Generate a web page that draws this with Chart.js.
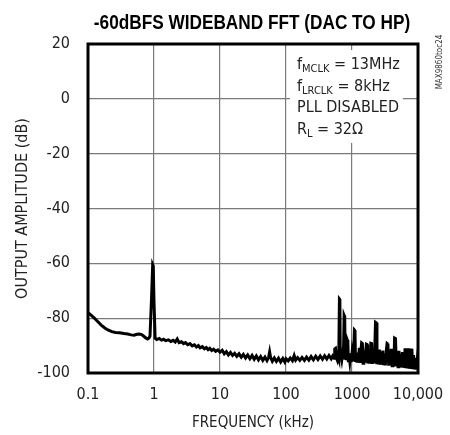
<!DOCTYPE html>
<html>
<head>
<meta charset="utf-8">
<script src="https://cdn.jsdelivr.net/npm/chart.js@4.4.0/dist/chart.umd.min.js"></script>
<style>
  html, body { margin: 0; padding: 0; background: #fff; }
</style>
</head>
<body>
<canvas id="myChart" width="450" height="435"></canvas>
<script>
// FFT trace, frequency in kHz and output amplitude in dB
const freqKHz = [
    0.1, 0.11, 0.125, 0.14, 0.16, 0.18, 0.2, 0.23, 0.26, 0.3, 0.35, 0.4, 0.45, 0.5, 0.55, 0.6, 0.65, 0.7, 0.75, 0.8, 0.84,
    0.87, 0.92, 0.955, 0.975, 1.0, 1.04,
    1.1, 1.2, 1.3, 1.4, 1.5, 1.65, 1.8, 1.95, 2.1, 2.25, 2.4, 2.6, 2.8, 3.0, 3.25, 3.5, 3.8, 4.1, 4.4, 4.7, 5.0, 5.4, 5.8, 6.2, 6.6, 7.0, 7.5, 8.0, 8.6, 9.3, 10,
    10.8, 11.6, 12.5, 13.4, 14.4, 15.5, 16.7, 18, 19.4, 21, 22.6, 24.4, 26.3, 28.4, 30.6, 33, 35.5, 38.3, 41.3, 44.5, 48, 51.5, 54.5, 56.5, 58.5, 62, 66.5, 71.5, 77, 83, 89.5, 96, 100,
    108, 116, 125, 133, 140, 150, 162, 175, 190, 205, 222, 240, 260, 282, 305, 330, 357, 385, 415, 448, 484, 510, 535, 548, 562, 585,
    600, 615, 630, 645, 655, 665, 680, 700, 720, 740, 760, 775, 790, 810, 830, 850, 865, 880, 900, 925, 950, 975,
    1000, 1030, 1060, 1090, 1110, 1130, 1160, 1190, 1220, 1255, 1290, 1320, 1360, 1400, 1435, 1470, 1510, 1550, 1600, 1650, 1690, 1730, 1780, 1830, 1880, 1930, 1980,
    2030, 2090, 2150, 2210, 2270, 2330, 2390, 2460, 2530, 2600, 2680, 2760, 2840, 2920, 3010, 3100, 3200, 3300, 3400, 3500, 3600, 3700, 3820, 3940,
    4060, 4180, 4300, 4420, 4560, 4700, 4840, 4990, 5140, 5300, 5460, 5630, 5800, 5980, 6160, 6350, 6540, 6740, 6950, 7160, 7380, 7600, 7830, 8070, 8320, 8570, 8830, 9100, 9380, 9670, 10000
];
const amplitudeDb = [
    -78, -78.8, -80, -81.2, -82.6, -83.6, -84.3, -84.9, -85.2, -85.3, -85.6, -85.8, -86.1, -86.2, -85.9, -85.8, -86.0, -86.6, -87.2, -87.6, -87.2,
    -86.5, -72, -60.5, -61, -74, -87.3,
    -87.8, -87.4, -88.0, -87.7, -88.2, -87.9, -88.5, -88.1, -88.7, -87.6, -88.9, -88.6, -89.3, -88.9, -89.7, -89.3, -90.1, -89.7, -90.5, -90.0, -90.8, -90.4, -91.2, -90.7, -91.5, -91.0, -91.8, -91.3, -92.1, -91.6, -92.4,
    -91.7, -93.0, -92.2, -93.4, -92.5, -93.6, -92.8, -93.9, -93.0, -94.2, -93.2, -94.5, -93.4, -94.8, -93.6, -95.0, -93.8, -95.2, -94.0, -95.4, -94.2, -95.5, -94.3, -92.3, -94.4, -95.7, -94.5, -95.8, -94.6, -96.0, -94.7, -96.0, -94.8,
    -95.6, -94.5, -95.5, -93.6, -95.3, -94.4, -95.4, -94.3, -95.4, -94.2, -95.3, -94.0, -95.2, -93.9, -95.1, -93.8, -95.0, -93.7, -94.9, -93.6, -94.8, -93.8, -94.6, -91.2, -91.0, -94.7,
    -95.4, -94.2, -95.0, -73.0, -73.2, -94.8, -93.5, -95.2, -93.0, -95.0, -79.0, -79.5, -94.6, -92.0, -95.3, -88.0, -88.5, -95.5, -93.4, -95.8, -92.8, -96.0,
    -93.0, -95.7, -92.5, -84.3, -84.5, -96.0, -93.0, -96.2, -92.6, -95.9, -90.8, -96.3, -92.4, -89.0, -89.2, -96.4, -92.0, -96.2, -92.8, -89.5, -89.6, -96.5, -92.2, -96.6, -91.5, -89.2, -89.3,
    -96.7, -92.4, -96.5, -91.7, -81.5, -81.7, -96.8, -92.3, -96.9, -91.5, -97.0, -92.6, -96.8, -91.8, -97.1, -92.9, -97.2, -91.9, -89.2, -89.4, -97.3, -92.5, -97.2, -91.2,
    -97.4, -92.6, -97.5, -87.3, -87.5, -97.6, -92.9, -97.7, -91.9, -97.9, -93.0, -98.0, -92.4, -98.1, -93.3, -91.0, -98.2, -91.0, -98.3, -91.0, -98.4, -91.1, -98.5, -91.2, -98.6, -93.5, -98.7, -94.5, -98.8, -95.8, -98.5
];

const xTicks = [0.1, 1, 10, 100, 1000, 10000];
const xTickLabels = ['0.1', '1', '10', '100', '1000', '10,000'];
const yMin = -100, yMax = 20, yStep = 20;

const titleText = '-60dBFS WIDEBAND FFT (DAC TO HP)';
const xTitle = 'FREQUENCY (kHz)';
const yTitle = 'OUTPUT AMPLITUDE (dB)';
const partNo = 'MAX9860toc24';
// each line: [text, isSubscript]
const noteLines = [
    [['f', false], ['MCLK', true], [' = 13MHz', false]],
    [['f', false], ['LRCLK', true], [' = 8kHz', false]],
    [['PLL DISABLED', false]],
    [['R', false], ['L', true], [' = 32\u03A9', false]]
];

const FONT = "'DejaVu Sans Condensed', 'Liberation Sans Narrow', sans-serif";
const textColor = '#222';
const gridColor = '#7a7a7a';

const notesPlugin = {
    id: 'notes',
    beforeDatasetsDraw(chart) {
        const { ctx, chartArea } = chart;
        ctx.save();
        // white box behind the conditions text
        ctx.fillStyle = '#fff';
        ctx.fillRect(chartArea.left + 202, chartArea.top + 6, 113, 93);
        ctx.fillStyle = textColor;
        ctx.textBaseline = 'alphabetic';
        let y = chartArea.top + 25;
        noteLines.forEach(line => {
            let x = chartArea.left + 209;
            line.forEach(([txt, sub]) => {
                ctx.font = (sub ? '11px ' : '16px ') + FONT;
                ctx.fillText(txt, x, sub ? y + 3 : y);
                x += ctx.measureText(txt).width;
            });
            y += 21.7;
        });
        ctx.restore();
    },
    afterDraw(chart) {
        const { ctx, chartArea } = chart;
        ctx.save();
        ctx.strokeStyle = '#000';
        ctx.lineWidth = 3;
        ctx.strokeRect(chartArea.left, chartArea.top, chartArea.right - chartArea.left, chartArea.bottom - chartArea.top);

        // condensed bold title: Liberation Sans squeezed horizontally
        ctx.save();
        ctx.translate(252, 23);
        ctx.scale(0.82, 1);
        ctx.fillStyle = '#000';
        ctx.font = "bold 21px 'Liberation Sans', Arial, sans-serif";
        ctx.textAlign = 'center';
        ctx.textBaseline = 'middle';
        ctx.fillText(titleText, 0, 0);
        ctx.restore();

        ctx.translate(440, 62);
        ctx.rotate(-Math.PI / 2);
        ctx.font = '8px ' + FONT;
        ctx.textAlign = 'center';
        ctx.textBaseline = 'middle';
        ctx.fillStyle = '#333';
        ctx.fillText(partNo, 0, 0);
        ctx.restore();
    }
};

const ctx = document.getElementById('myChart');

new Chart(ctx, {
    type: 'scatter',
    data: {
        datasets: [{
            data: freqKHz.map((f, i) => ({ x: f, y: amplitudeDb[i] })),
            showLine: true,
            borderColor: '#000',
            borderWidth: 3,
            pointRadius: 0,
            tension: 0
        }]
    },
    options: {
        responsive: false,
        animation: false,
        layout: { padding: { top: 44, right: 32, left: 0, bottom: 0 } },
        plugins: {
            legend: { display: false },
            tooltip: { enabled: false }
        },
        scales: {
            x: {
                type: 'logarithmic',
                min: 0.1,
                max: 10000,
                afterBuildTicks: (scale) => {
                    scale.ticks = xTicks.map(v => ({ value: v }));
                },
                afterFit: (scale) => {
                    scale.height = 62;
                    scale.paddingLeft = 0;
                    scale.paddingRight = 0;
                },
                ticks: {
                    autoSkip: false,
                    maxRotation: 0,
                    padding: 12,
                    color: textColor,
                    font: { family: FONT, size: 16 },
                    callback: (v) => xTickLabels[xTicks.indexOf(v)]
                },
                grid: { color: gridColor, lineWidth: 1.2, drawTicks: false },
                border: { display: false },
                title: {
                    display: true,
                    text: xTitle,
                    color: textColor,
                    font: { family: FONT, size: 15 },
                    padding: { top: 0, bottom: 3 }
                }
            },
            y: {
                min: yMin,
                max: yMax,
                afterFit: (scale) => { scale.width = 88; },
                ticks: {
                    stepSize: yStep,
                    padding: 18,
                    color: textColor,
                    font: { family: FONT, size: 16 }
                },
                grid: { color: gridColor, lineWidth: 1.2, drawTicks: false },
                border: { display: false },
                title: {
                    display: true,
                    text: yTitle,
                    color: textColor,
                    font: { family: FONT, size: 16 },
                    padding: { top: 13, bottom: 0 }
                }
            }
        }
    },
    plugins: [notesPlugin]
});
</script>
</body>
</html>
